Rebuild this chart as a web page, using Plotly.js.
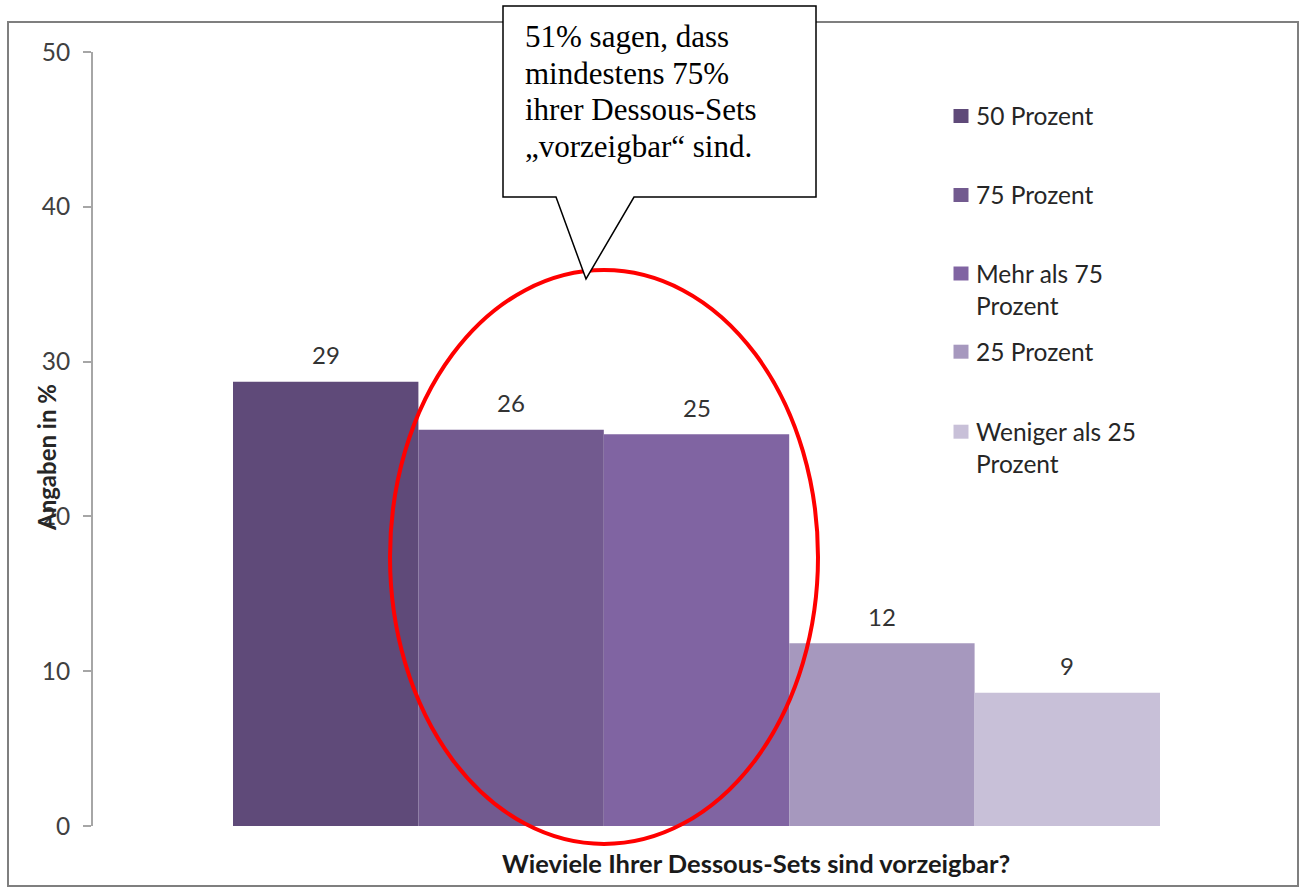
<!DOCTYPE html>
<html>
<head>
<meta charset="utf-8">
<script src="https://cdn.plot.ly/plotly-3.0.1.min.js"></script>
<style>html,body{margin:0;padding:0;background:#fff;}#chart{width:1307px;height:888px;}</style>
</head>
<body>
<div id="chart"></div>
<script>
// ---- data ----
const seriesNames = ['50 Prozent', '75 Prozent', 'Mehr als 75 Prozent', '25 Prozent', 'Weniger als 25 Prozent'];
const legendText = ['50 Prozent', '75 Prozent', 'Mehr als 75<br>Prozent', '25 Prozent', 'Weniger als 25<br>Prozent'];
const values = [28.7, 25.6, 25.3, 11.8, 8.6];
const valueLabels = ['29', '26', '25', '12', '9'];
const colors = ['#5f4a79', '#725a8f', '#8064a2', '#a698be', '#c8c0d8'];
const yTicks = [0, 10, 20, 30, 40, 50];
const yTitle = 'Angaben in %';
const xTitle = 'Wieviele Ihrer Dessous-Sets sind vorzeigbar?';
const calloutLines = ['51% sagen, dass', 'mindestens 75%', 'ihrer Dessous-Sets', '„vorzeigbar“ sind.'];

// ---- layout helpers (pixel -> paper) ----
const W = 1307, H = 888;
const L = 93, R = 1190, T = 52, B = 826;
const px = v => (v - L) / (R - L);
const py = v => (B - v) / (B - T);

const traces = seriesNames.map((name, i) => ({
  type: 'bar',
  name: name,
  x: [i],
  y: [values[i]],
  width: 1,
  marker: {color: colors[i], line: {width: 0}},
  hoverinfo: 'name+y',
  showlegend: false
}));

const annotations = [];
const shapes = [];

// outer frame
shapes.push({type: 'rect', xref: 'paper', yref: 'paper', x0: px(8), x1: px(1298), y0: py(22), y1: py(886),
  line: {color: '#7f7f7f', width: 2}, fillcolor: 'rgba(0,0,0,0)', layer: 'below'});

// value labels
values.forEach((v, i) => {
  annotations.push({x: i, y: v, xref: 'x', yref: 'y', text: valueLabels[i], showarrow: false,
    yshift: 27, font: {family: 'Lato', size: 24, color: '#333333'}});
});

// legend (custom)
const legY = [116, 195, 273.5, 351.7, 431.7];
legendText.forEach((t, i) => {
  const n = t.split('<br>').length;
  shapes.push({type: 'rect', xref: 'paper', yref: 'paper', x0: px(953.5), x1: px(968.5), y0: py(legY[i] - 7), y1: py(legY[i] + 7),
    fillcolor: colors[i], line: {width: 0}});
  annotations.push({xref: 'paper', yref: 'paper', x: px(974), y: py(legY[i] + (n - 1) * 15.6), xanchor: 'left', yanchor: 'middle',
    align: 'left', text: t, showarrow: false, font: {family: 'Lato', size: 24.5, color: '#262626'}});
});

// axis titles
annotations.push({xref: 'paper', yref: 'paper', x: px(46), y: py(458), text: '<b>' + yTitle + '</b>', textangle: -90,
  showarrow: false, xanchor: 'center', yanchor: 'middle', font: {family: 'Lato', size: 24, color: '#262626'}});
annotations.push({xref: 'paper', yref: 'paper', x: px(756), y: py(863), text: '<b>' + xTitle + '</b>',
  showarrow: false, xanchor: 'center', yanchor: 'middle', font: {family: 'Lato', size: 25.5, color: '#1a1a1a'}});

// red ellipse
shapes.push({type: 'circle', xref: 'paper', yref: 'paper', x0: px(390), x1: px(818), y0: py(270), y1: py(844),
  line: {color: '#ff0000', width: 4}, fillcolor: 'rgba(0,0,0,0)', layer: 'above'});

// callout
const cp = [[503, 6], [816, 6], [816, 197], [634, 197], [586, 279], [556, 197], [503, 197]];
shapes.push({type: 'path', xref: 'paper', yref: 'paper',
  path: 'M' + cp.map(p => px(p[0]) + ',' + py(p[1])).join(' L') + ' Z',
  fillcolor: '#ffffff', line: {color: '#000000', width: 1.5}, layer: 'above'});
const lineY = [37, 73, 110, 147];
calloutLines.forEach((t, i) => {
  annotations.push({xref: 'paper', yref: 'paper', x: px(523), y: py(lineY[i]), xanchor: 'left', yanchor: 'middle',
    text: t, showarrow: false, font: {family: 'Liberation Serif', size: 31, color: '#000000'}});
});

const xScale = 927 / 5; // px per unit
const layout = {
  width: W, height: H,
  margin: {l: L, r: W - R, t: T, b: H - B, pad: 0},
  paper_bgcolor: '#ffffff', plot_bgcolor: 'rgba(0,0,0,0)',
  barmode: 'overlay',
  showlegend: false,
  xaxis: {range: [-0.5 - (233 - L) / xScale, 4.5 + (R - 1160) / xScale], visible: false, fixedrange: true},
  yaxis: {range: [0, 50], tickvals: yTicks, ticks: 'outside', ticklen: 8, tickwidth: 2, tickcolor: '#a6a6a6',
    showline: true, linecolor: '#a6a6a6', linewidth: 2, showgrid: false, zeroline: false,
    ticklabelstandoff: 8,
    tickfont: {family: 'Lato', size: 24.5, color: '#404040'}, fixedrange: true},
  annotations: annotations,
  shapes: shapes
};

Plotly.newPlot('chart', traces, layout, {displayModeBar: false, staticPlot: true});
</script>
</body>
</html>
